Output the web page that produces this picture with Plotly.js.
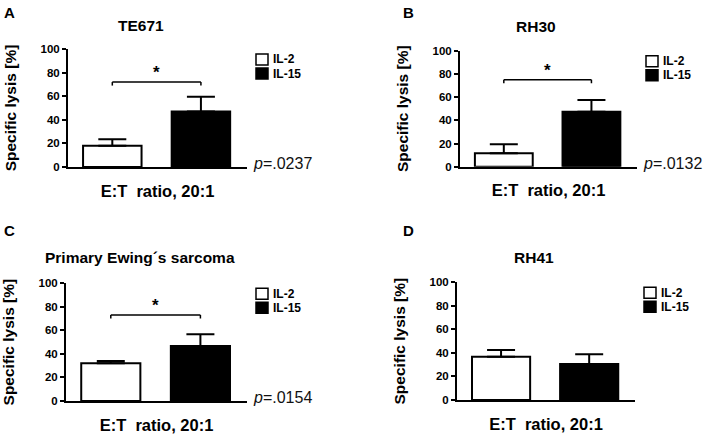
<!DOCTYPE html>
<html>
<head>
<meta charset="utf-8">
<script src="https://cdn.plot.ly/plotly-3.0.1.min.js"></script>
<style>
  html, body { margin: 0; padding: 0; background: #fff; }
  #chart { width: 709px; height: 437px; }
</style>
</head>
<body>
<div id="chart"></div>
<script>
// values (mean specific lysis and upper error, %)
var categories = ['IL-2', 'IL-15'];
var seriesFill = ['#fff', '#000'];
var panelLetters = ['A', 'B', 'C', 'D'];
var panelTitles = ['TE671', 'RH30', 'Primary Ewing´s sarcoma', 'RH41'];
var il2Lysis = [18, 11.5, 32, 36.8];
var il2Err = [5.5, 7.8, 2, 5.7];
var il15Lysis = [47, 47.4, 46.7, 30.6];
var il15Err = [12.6, 10.1, 10, 8.2];
var pValues = ['.0237', '.0132', '.0154', null];
var bracketLevel = [72, 75, 73, null];

var FONT = '"Liberation Sans", Arial, sans-serif';

// subplot boxes in pixels: [left, right, top, bottom]
var boxes = [
    [68, 247, 49, 167],
    [460, 637, 50.7, 166.7],
    [66, 247, 283.3, 401],
    [457, 635, 282.3, 400]
];
var W = 709, H = 437;

function px2x(p) { return p / W; }
function px2y(p) { return 1 - p / H; }

function errBar(val) {
    return {
        type: 'data', symmetric: false, array: [val], arrayminus: [0],
        color: '#000', thickness: 2, width: 14
    };
}

var data = [];
var layout = {
    width: W, height: H,
    margin: {l: 0, r: 0, t: 0, b: 0},
    paper_bgcolor: '#fff',
    plot_bgcolor: 'rgba(0,0,0,0)',
    barmode: 'overlay',
    showlegend: false,
    font: {family: FONT, color: '#000'},
    annotations: [],
    shapes: []
};

for (var i = 0; i < 4; i++) {
    var n = i === 0 ? '' : String(i + 1);
    var xa = 'x' + n, ya = 'y' + n;
    var b = boxes[i];

    data.push({
        type: 'bar', x: [categories[0]], y: [il2Lysis[i]], name: categories[0],
        xaxis: xa, yaxis: ya, width: 0.66,
        marker: {color: seriesFill[0], line: {color: '#000', width: 2}},
        error_y: errBar(il2Err[i])
    });
    data.push({
        type: 'bar', x: [categories[1]], y: [il15Lysis[i]], name: categories[1],
        xaxis: xa, yaxis: ya, width: 0.66,
        marker: {color: seriesFill[1], line: {color: '#000', width: 2}},
        error_y: errBar(il15Err[i])
    });

    layout['xaxis' + n] = {
        domain: [px2x(b[0]), px2x(b[1])],
        anchor: ya, type: 'category', categoryarray: categories,
        range: [-0.5, 1.52], fixedrange: true,
        showline: true, linewidth: 2, linecolor: '#000',
        showticklabels: false, ticks: '', showgrid: false, zeroline: false,
        title: {text: 'E:T  ratio, 20:1', standoff: 17,
                font: {family: FONT, size: 16.5, color: '#000', weight: 'bold'}}
    };
    layout['yaxis' + n] = {
        domain: [px2y(b[3]), px2y(b[2])],
        anchor: xa, range: [0, 100], dtick: 20, fixedrange: true,
        showline: true, linewidth: 2, linecolor: '#000',
        ticks: 'outside', ticklen: 4, tickwidth: 2, tickcolor: '#000',
        showgrid: false, zeroline: false,
        tickfont: {family: FONT, size: 11.5, color: '#000', weight: 'bold'},
        title: {text: 'Specific lysis [%]', standoff: 20,
                font: {family: FONT, size: 15.5, color: '#000', weight: 'bold'}}
    };

    // legend drawn as boxes plus labels beside each panel
    for (var k = 0; k < categories.length; k++) {
        var bx = b[1] + 9, by = b[2] + 5 + k * 14;
        layout.shapes.push({
            type: 'rect', xref: 'paper', yref: 'paper',
            x0: px2x(bx), x1: px2x(bx + 12), y0: px2y(by + 11), y1: px2y(by),
            fillcolor: seriesFill[k], line: {color: '#000', width: 1.5}
        });
        layout.annotations.push({
            xref: 'paper', yref: 'paper', x: px2x(bx + 15), y: px2y(by + 5.5),
            xanchor: 'left', yanchor: 'middle', showarrow: false,
            text: '<b>' + categories[k] + '</b>',
            font: {family: FONT, size: 12, color: '#000'}
        });
    }

    // panel title and letter
    layout.annotations.push({
        xref: xa + ' domain', yref: ya + ' domain', x: i % 2 === 0 ? 0.41 : 0.43,
        y: (b[3] - (i < 2 ? 26 : 257.5)) / (b[3] - b[2]), xanchor: 'center', yanchor: 'middle',
        text: '<b>' + panelTitles[i] + '</b>', showarrow: false,
        font: {family: FONT, size: 15.5, color: '#000'}
    });
    layout.annotations.push({
        xref: 'paper', yref: 'paper', x: px2x(i % 2 === 0 ? 9 : 408),
        y: px2y(i < 2 ? 12 : 231), xanchor: 'center', yanchor: 'middle',
        text: '<b>' + panelLetters[i] + '</b>', showarrow: false,
        font: {family: FONT, size: 15, color: '#000'}
    });

    if (pValues[i]) {
        layout.annotations.push({
            xref: xa + ' domain', yref: ya, x: 1.02, y: 3,
            xanchor: 'left', yanchor: 'middle', showarrow: false,
            text: '<i>p</i>=' + pValues[i],
            font: {family: FONT, size: 16, color: '#111'}
        });
    }
    if (bracketLevel[i] !== null) {
        var lv = bracketLevel[i];
        var ln = {color: '#000', width: 1.5};
        layout.shapes.push({type: 'line', xref: xa, yref: ya, x0: 0, x1: 1, y0: lv, y1: lv, line: ln});
        layout.shapes.push({type: 'line', xref: xa, yref: ya, x0: 0, x1: 0, y0: lv - 3, y1: lv, line: ln});
        layout.shapes.push({type: 'line', xref: xa, yref: ya, x0: 1, x1: 1, y0: lv - 3, y1: lv, line: ln});
        layout.annotations.push({
            xref: xa, yref: ya, x: 0.5, y: lv, xanchor: 'center', yanchor: 'bottom',
            yshift: -2, text: '<b>*</b>', showarrow: false,
            font: {family: FONT, size: 17, color: '#000'}
        });
    }
}

Plotly.newPlot('chart', data, layout, {staticPlot: true, displayModeBar: false});
</script>
</body>
</html>
